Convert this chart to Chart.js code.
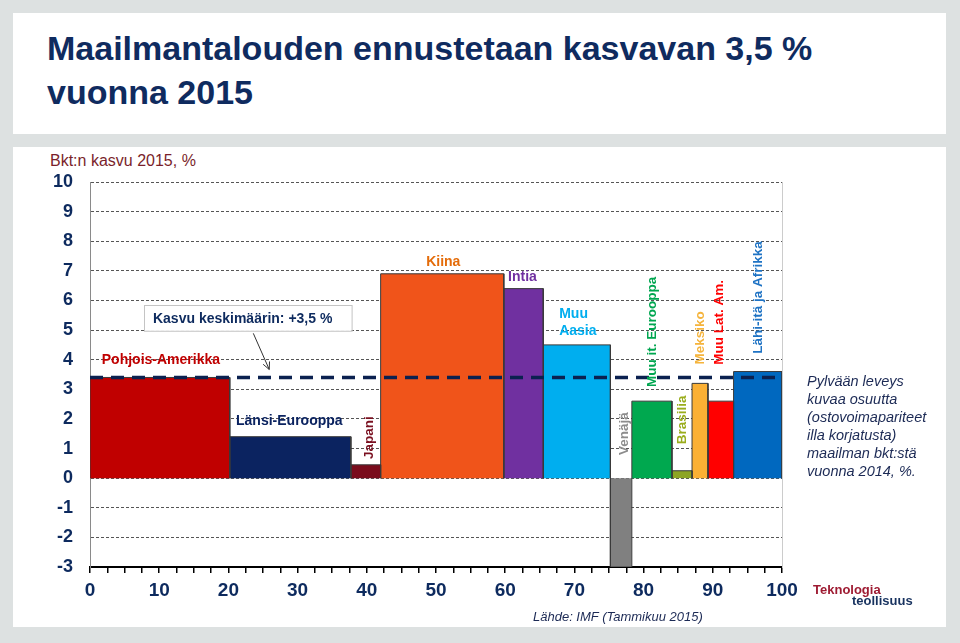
<!DOCTYPE html>
<html><head><meta charset="utf-8">
<script src="https://cdn.jsdelivr.net/npm/chart.js@4.4.1/dist/chart.umd.min.js"></script>
<style>
html,body{margin:0;padding:0;width:960px;height:643px;overflow:hidden;background:#dde1e1;font-family:"Liberation Sans",Arial,sans-serif;}
.panel{position:absolute;background:#fff;}
#title{position:absolute;left:47px;top:26px;font-size:34px;font-weight:bold;color:#0f2b5f;line-height:44px;white-space:nowrap;}
#sub{position:absolute;left:50px;top:152px;font-size:16px;color:#7a1f2b;line-height:18px;white-space:nowrap;}
#note{position:absolute;left:807px;top:372px;font-size:14.5px;font-style:italic;color:#1c2a55;line-height:18px;white-space:nowrap;}
#src{position:absolute;left:533px;top:609px;font-size:13px;font-style:italic;color:#1c2a55;line-height:16px;white-space:nowrap;}
#logo1{position:absolute;left:813px;top:582px;font-size:13px;font-weight:bold;color:#9e1b32;line-height:15px;}
#logo2{position:absolute;left:852px;top:593px;font-size:13px;font-weight:bold;color:#17325f;line-height:15px;}
#wrap{position:absolute;left:0;top:0;width:960px;height:643px;}
</style></head>
<body>
<div class="panel" style="left:13px;top:13px;width:933px;height:121px;"></div>
<div class="panel" style="left:13px;top:147px;width:933px;height:480px;"></div>
<div id="title">Maailmantalouden ennustetaan kasvavan 3,5 %<br>vuonna 2015</div>
<div id="sub">Bkt:n kasvu 2015, %</div>
<div id="wrap"><canvas id="c" width="960" height="643"></canvas></div>
<div id="note">Pylvään leveys<br>kuvaa osuutta<br>(ostovoimapariteet<br>illa korjatusta)<br>maailman bkt:stä<br>vuonna 2014, %.</div>
<div id="src">Lähde: IMF (Tammikuu 2015)</div>
<div id="logo1">Teknologia</div>
<div id="logo2">teollisuus</div>
<script>
// ---- data ----
const regions = ['Pohjois-Amerikka','Länsi-Eurooppa','Japani','Kiina','Intia','Muu Aasia','Venäjä','Muu it. Eurooppa','Brasilia','Meksiko','Muu Lat. Am.','Lähi-itä ja Afrikka'];
const gdpShare2014 = [20.2, 17.5, 4.3, 17.8, 5.7, 9.7, 3.1, 5.8, 2.9, 2.3, 3.7, 7.0];
const growth2015 = [3.4, 1.4, 0.45, 6.9, 6.4, 4.5, -3.0, 2.6, 0.25, 3.2, 2.6, 3.6];
const worldAverage = 3.4;
const xTickLabels = [0,10,20,30,40,50,60,70,80,90,100];
const yTickLabels = [-3,-2,-1,0,1,2,3,4,5,6,7,8,9,10];

// ---- styles ----
const barColors = ['#c00000','#0b2360','#7a0c1c','#f0541a','#7030a0','#00aeef','#808080','#00a84f','#8da524','#fbb034','#ff0000','#0068bf'];
const navy = '#0d2a5e';

// label placement (data coordinates)
const labelDefs = [
  {i:0, x:1.7, y:4.0, color:'#c00000', align:'left'},
  {i:1, x:21.1, y:1.94, color:'#0b2360', align:'left'},
  {i:2, x:40.4, y:1.37, color:'#7a1020', rot:true},
  {i:3, x:51.05, y:7.3, color:'#e46c0a'},
  {i:4, x:62.5, y:6.8, color:'#7030a0'},
  {i:5, x:67.8, y:5.25, color:'#00aeef', align:'left', lines:['Muu','Aasia']},
  {i:6, x:77.2, y:1.5, color:'#8c8c8c', rot:true},
  {i:7, x:81.3, y:4.94, color:'#00a650', rot:true},
  {i:8, x:85.6, y:1.97, color:'#9aad1c', rot:true},
  {i:9, x:88.2, y:4.74, color:'#f5b43c', rot:true},
  {i:10, x:91.0, y:5.26, color:'#ff0000', rot:true},
  {i:11, x:96.6, y:6.1, color:'#1f73c4', rot:true}
];

// build bar polygons from cumulative shares
const datasets = [];
datasets.push({
  label:'Kasvu keskimäärin',
  data:[{x:0,y:worldAverage},{x:100,y:worldAverage}],
  showLine:true, borderColor:'#0b2150', borderWidth:3.5, borderDash:[13,8],
  pointRadius:0, fill:false, order:0
});
let cum = 0;
regions.forEach((r,i)=>{
  const x0 = cum, x1 = cum + gdpShare2014[i];
  cum = x1;
  const v = growth2015[i];
  datasets.push({
    label:r,
    data:[{x:x0,y:0},{x:x0,y:v},{x:x1,y:v},{x:x1,y:0}],
    showLine:true, fill:'origin', backgroundColor:barColors[i],
    borderColor:'#3a3a3a', borderWidth:1, pointRadius:0, tension:0, order:1
  });
});

const annot = {
  id:'annot',
  afterDatasetsDraw(chart){
    const {ctx, scales:{x,y}} = chart;
    ctx.save();
    // average box
    const bx0 = x.getPixelForValue(7.8), bx1 = x.getPixelForValue(37.8);
    const by0 = y.getPixelForValue(5.84), by1 = y.getPixelForValue(4.97);
    ctx.fillStyle = '#fff';
    ctx.fillRect(bx0, by0, bx1-bx0, by1-by0);
    ctx.strokeStyle = '#c4c4c4'; ctx.lineWidth = 1;
    ctx.strokeRect(Math.round(bx0)+0.5, Math.round(by0)+0.5, bx1-bx0, by1-by0);
    ctx.fillStyle = navy; ctx.font = 'bold 14px "Liberation Sans", Arial';
    ctx.textAlign = 'left'; ctx.textBaseline = 'middle';
    ctx.fillText('Kasvu keskimäärin: +3,5 %', bx0+9, (by0+by1)/2+1);
    // arrow
    const ax0 = x.getPixelForValue(23.6), ay0 = y.getPixelForValue(4.89);
    const ax1 = x.getPixelForValue(25.9), ay1 = y.getPixelForValue(3.67);
    ctx.strokeStyle = '#333'; ctx.lineWidth = 1;
    ctx.beginPath(); ctx.moveTo(ax0, ay0); ctx.lineTo(ax1, ay1); ctx.stroke();
    const ang = Math.atan2(ay1-ay0, ax1-ax0);
    ctx.beginPath();
    ctx.moveTo(ax1 - 8*Math.cos(ang-0.45), ay1 - 8*Math.sin(ang-0.45));
    ctx.lineTo(ax1, ay1);
    ctx.lineTo(ax1 - 8*Math.cos(ang+0.45), ay1 - 8*Math.sin(ang+0.45));
    ctx.stroke();
    // region labels
    labelDefs.forEach(d=>{
      const px = x.getPixelForValue(d.x), py = y.getPixelForValue(d.y);
      ctx.fillStyle = d.color;
      ctx.textBaseline = 'middle';
      if (d.rot){
        ctx.font = 'bold 13.5px "Liberation Sans", Arial';
        ctx.save(); ctx.translate(px, py); ctx.rotate(-Math.PI/2);
        ctx.textAlign = 'center'; ctx.fillText(regions[d.i], 0, 0); ctx.restore();
      } else {
        ctx.font = 'bold 14px "Liberation Sans", Arial';
        ctx.textAlign = d.align || 'center';
        const lines = d.lines || [regions[d.i]];
        lines.forEach((t,k)=>{ ctx.fillText(t, px, py + (k - (lines.length-1)/2)*17); });
      }
    });
    ctx.restore();
  }
};

new Chart(document.getElementById('c'), {
  type:'scatter',
  data:{datasets},
  options:{
    responsive:false, animation:false,
    layout:{padding:{left:0, right:178, top:182, bottom:36}},
    plugins:{legend:{display:false}, tooltip:{enabled:false}},
    scales:{
      x:{type:'linear', min:0, max:100, position:'bottom',
        ticks:{stepSize:2.5, autoSkip:false, maxRotation:0, padding:6,
          callback:v=> xTickLabels.includes(v) ? String(v) : '',
          font:{size:19, weight:'bold', family:'"Liberation Sans", Arial'}, color:navy},
        grid:{drawOnChartArea:false, drawTicks:true, tickLength:6, color:'#000', lineWidth:1.5},
        border:{color:'#000', width:2},
        afterFit:s=>{s.height=40;}
      },
      y:{min:-3, max:10, position:'left',
        afterBuildTicks:s=>{s.ticks = yTickLabels.map(v=>({value:v}));},
        ticks:{padding:17, font:{size:18, weight:'bold', family:'"Liberation Sans", Arial'}, color:navy},
        grid:{color:'#555', drawTicks:false, lineWidth:1},
        border:{color:'#8a8a8a', width:1, dash:[3,2]},
        afterFit:s=>{s.width=90;}
      },
      yR:{min:-3, max:10, position:'right', display:true,
        ticks:{display:false}, grid:{drawOnChartArea:false, drawTicks:false},
        border:{color:'#cccccc', width:1},
        afterFit:s=>{s.width=0;}
      }
    }
  },
  plugins:[annot]
});
</script>
</body></html>
